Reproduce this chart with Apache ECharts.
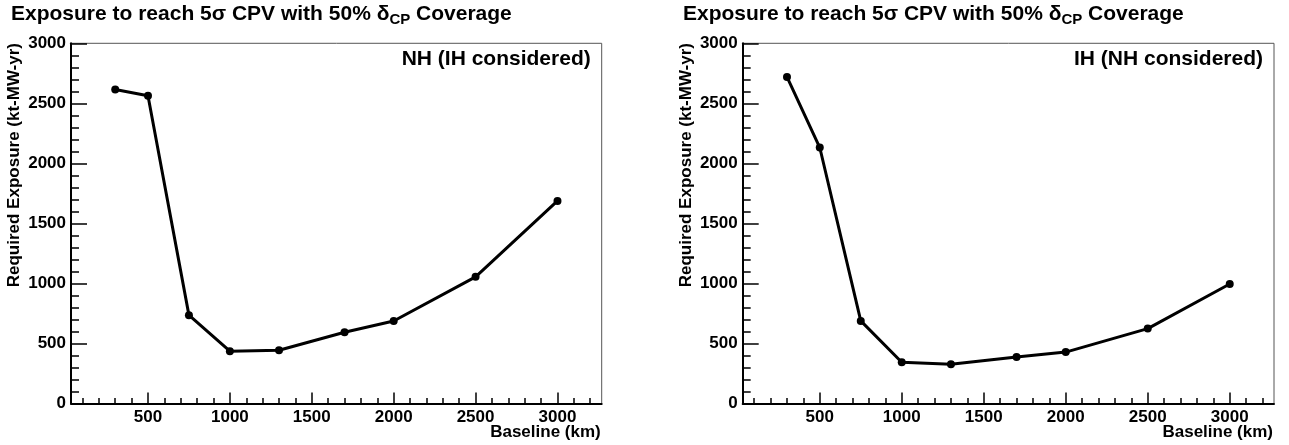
<!DOCTYPE html>
<html>
<head>
<meta charset="utf-8">
<script src="https://cdn.jsdelivr.net/npm/echarts@6/dist/echarts.min.js"></script>
<style>html,body{margin:0;padding:0;background:#fff}#c{width:1289px;height:445px}</style>
</head>
<body>
<div id="c"></div>
<script>
// ---- data ----
var baselines = [300, 500, 750, 1000, 1300, 1700, 2000, 2500, 3000];
var exposureNH = [2615, 2563, 736, 436, 444, 594, 687, 1055, 1687];
var exposureIH = [2720, 2132, 688, 343, 327, 388, 428, 624, 995];
var xMajorTicks = [500, 1000, 1500, 2000, 2500, 3000];
var xMinorTicks = [100, 200, 300, 400, 600, 700, 800, 900, 1100, 1200, 1300, 1400, 1600, 1700, 1800, 1900, 2100, 2200, 2300, 2400, 2600, 2700, 2800, 2900, 3100, 3200];
var yTicks = [0, 500, 1000, 1500, 2000, 2500, 3000];
var panelLabels = ['NH (IH considered)', 'IH (NH considered)'];
var titleText = 'Exposure to reach 5\u03c3 CPV with 50% \u03b4{sub|CP} Coverage';
var xTitle = 'Baseline (km)';
var yTitle = 'Required Exposure (kt-MW-yr)';

var FONT = 'Liberation Sans, Arial, Helvetica, sans-serif';
var grids = [
  {left: 71, top: 43.3, width: 530.7, height: 360.2},
  {left: 742.7, top: 43.3, width: 531.3, height: 360.2}
];

function pairs(xs, ys) { return xs.map(function (x, i) { return [x, ys[i]]; }); }
function plain(v) { return String(v); }

var option = {
  animation: false,
  backgroundColor: '#fff',
  grid: grids.map(function (g) {
    return {left: g.left, top: g.top, width: g.width, height: g.height,
      show: true, borderColor: '#555', borderWidth: 1, backgroundColor: 'transparent'};
  }),
  xAxis: [],
  yAxis: [],
  series: [],
  graphic: []
};

[0, 1].forEach(function (p) {
  option.xAxis.push({
    type: 'value', gridIndex: p, position: 'bottom', min: 30, max: 3270,
    axisLine: {show: true, lineStyle: {color: '#000', width: 2}},
    axisTick: {show: true, inside: true, length: 11, customValues: xMajorTicks, lineStyle: {color: '#000', width: 1.5}},
    axisLabel: {show: true, customValues: xMajorTicks, formatter: plain, margin: 5, color: '#000', fontFamily: FONT, fontWeight: 'bold', fontSize: 17},
    splitLine: {show: false}
  });
  option.xAxis.push({
    type: 'value', gridIndex: p, position: 'bottom', min: 30, max: 3270,
    axisLine: {show: false},
    axisTick: {show: true, inside: true, length: 5.5, customValues: xMinorTicks, lineStyle: {color: '#000', width: 1.5}},
    axisLabel: {show: false},
    splitLine: {show: false}
  });
  option.yAxis.push({
    type: 'value', gridIndex: p, min: 0, max: 3000, interval: 500,
    axisLine: {show: true, lineStyle: {color: '#000', width: 2}},
    axisTick: {show: true, inside: true, length: 16, lineStyle: {color: '#000', width: 1.5}},
    minorTick: {show: true, splitNumber: 5, length: 8, lineStyle: {color: '#000', width: 1.5}},
    axisLabel: {customValues: yTicks, formatter: plain, margin: 5, color: '#000', fontFamily: FONT, fontWeight: 'bold', fontSize: 17},
    splitLine: {show: false},
    minorSplitLine: {show: false}
  });
  option.series.push({
    type: 'line', xAxisIndex: p * 2, yAxisIndex: p,
    data: pairs(baselines, p === 0 ? exposureNH : exposureIH),
    symbol: 'circle', symbolSize: 8,
    lineStyle: {color: '#000', width: 3},
    itemStyle: {color: '#000'},
    z: 5
  });
  var g = grids[p];
  var ox = p === 0 ? 0 : 672;
  option.graphic.push({
    type: 'text', x: 11 + ox, y: 14,
    style: {
      text: titleText, fill: '#000', font: 'bold 21px ' + FONT,
      textVerticalAlign: 'middle', textAlign: 'left', lineHeight: 27,
      rich: {sub: {fontSize: 15, fontWeight: 'bold', fontFamily: FONT, lineHeight: 12, verticalAlign: 'bottom', fill: '#000'}}
    }
  });
  option.graphic.push({
    type: 'text', x: g.left + g.width - 11, y: 59.5,
    style: {text: panelLabels[p], fill: '#000', font: 'bold 21px ' + FONT, textAlign: 'right', textVerticalAlign: 'middle'}
  });
  option.graphic.push({
    type: 'text', x: g.left + g.width - 1, y: 432.5,
    style: {text: xTitle, fill: '#000', font: 'bold 17px ' + FONT, textAlign: 'right', textVerticalAlign: 'middle'}
  });
  option.graphic.push({
    type: 'text', x: 14.5 + ox, y: 43, rotation: Math.PI / 2,
    style: {text: yTitle, fill: '#000', font: 'bold 17px ' + FONT, textAlign: 'right', textVerticalAlign: 'middle'}
  });
});

var chart = echarts.init(document.getElementById('c'), null, {renderer: 'canvas'});
chart.setOption(option);
</script>
</body>
</html>
